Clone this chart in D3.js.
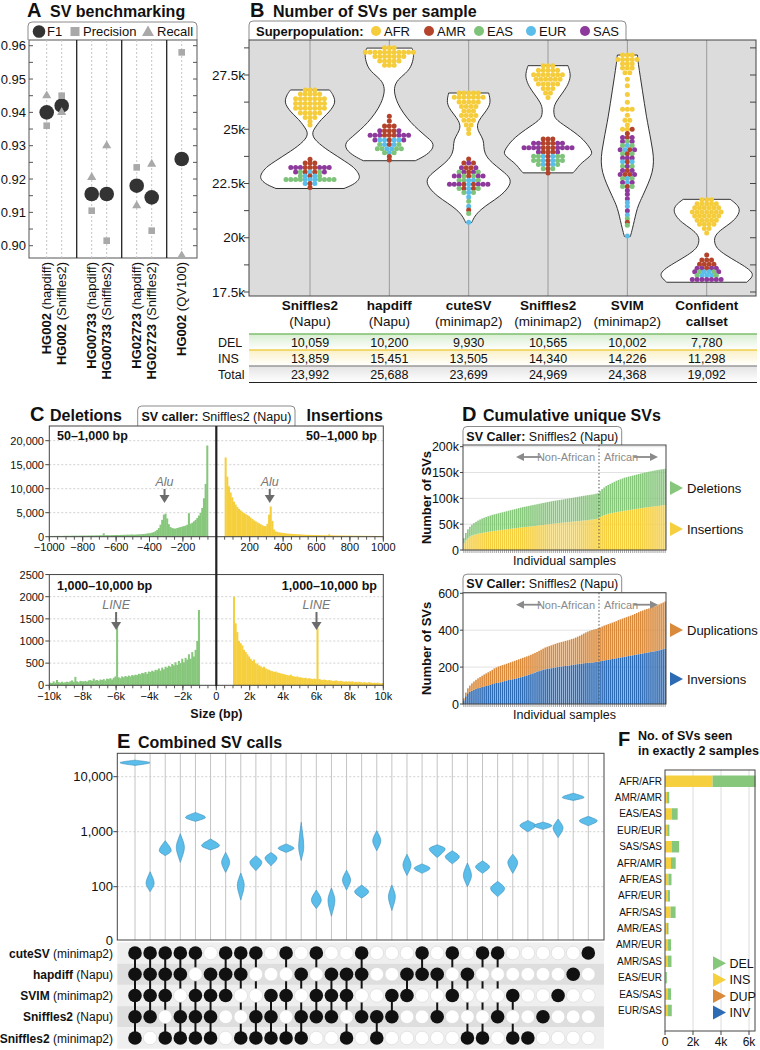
<!DOCTYPE html>
<html><head><meta charset="utf-8">
<script src="https://cdn.jsdelivr.net/npm/d3@7/dist/d3.min.js"></script>
<style>body{margin:0;background:#fff;}</style>
</head><body>
<script>
// ================= DATA =================
// Panel A
const benchSample = ["HG002","HG002","HG00733","HG00733","HG02723","HG02723","HG002"];
const benchMethod = ["(hapdiff)","(Sniffles2)","(hapdiff)","(Sniffles2)","(hapdiff)","(Sniffles2)","(QV100)"];
const benchGroup = [0,0,1,1,2,2,3];
const benchF1 = [0.940,0.942,0.9155,0.9155,0.918,0.9145,0.926];
const benchPrecision = [0.936,0.945,0.9105,0.9015,0.9235,0.9045,0.958];
const benchRecall = [0.945,0.940,0.9205,0.930,0.912,0.9245,0.897];
const benchTicks = [0.90,0.91,0.92,0.93,0.94,0.95,0.96];

// Panel B
const violinCallers = ["Sniffles2","hapdiff","cuteSV","Sniffles2","SVIM","Confident"];
const violinSubs = ["(Napu)","(Napu)","(minimap2)","(minimap2)","(minimap2)","callset"];
const popNames = ["AFR","AMR","EAS","EUR","SAS"];
const popCodes = ["F","R","G","B","P"];
const svTicksK = [17.5,20,22.5,25,27.5];
// violin density profiles: [thousand SVs, relative density]
const violinDensity = [
 [[22.27,0.68],[22.45,0.87],[22.65,0.97],[22.82,1.0],[23.05,0.95],[23.3,0.85],[23.55,0.68],[23.75,0.55],[24.0,0.38],[24.21,0.25],[24.45,0.13],[24.65,0.06],[24.85,0.05],[25.0,0.08],[25.2,0.14],[25.44,0.22],[25.7,0.34],[25.9,0.42],[26.15,0.49],[26.35,0.5],[26.6,0.46],[26.81,0.39]],
 [[23.55,0.52],[23.75,0.7],[24.06,0.87],[24.38,0.89],[24.67,0.73],[24.98,0.58],[25.28,0.44],[25.74,0.28],[26.2,0.16],[26.66,0.1],[26.96,0.1],[27.27,0.16],[27.58,0.33],[27.88,0.44],[28.34,0.49],[28.6,0.48],[28.74,0.45]],
 [[20.7,0.06],[21.0,0.12],[21.3,0.24],[21.6,0.42],[21.9,0.62],[22.3,0.8],[22.68,0.86],[23.0,0.72],[23.3,0.55],[23.6,0.4],[23.9,0.32],[24.2,0.3],[24.5,0.3],[24.8,0.22],[25.1,0.16],[25.4,0.2],[25.7,0.3],[26.0,0.4],[26.3,0.44],[26.67,0.4]],
 [[22.99,0.5],[23.14,0.56],[23.45,0.66],[23.83,0.9],[24.06,0.86],[24.52,0.72],[24.98,0.46],[25.44,0.15],[25.67,0.12],[25.9,0.11],[26.2,0.14],[26.58,0.26],[26.96,0.38],[27.36,0.45],[27.65,0.44],[27.93,0.4]],
 [[20.06,0.06],[20.4,0.1],[20.8,0.14],[21.2,0.18],[21.5,0.22],[21.9,0.3],[22.5,0.42],[23.0,0.5],[23.5,0.53],[24.0,0.51],[24.5,0.47],[25.0,0.43],[25.6,0.38],[26.2,0.34],[26.8,0.3],[27.4,0.26],[28.0,0.22],[28.42,0.2]],
 [[17.95,0.8],[18.15,0.9],[18.35,0.93],[18.6,0.82],[18.9,0.6],[19.2,0.38],[19.5,0.2],[19.8,0.15],[20.1,0.16],[20.4,0.3],[20.7,0.5],[21.0,0.62],[21.3,0.67],[21.55,0.6],[21.77,0.47]]
];
// beeswarm rows: [thousand SVs, superpopulation codes of samples in the row]
const swarmRows = [
 [[26.81,"FFF"],[26.62,"FFFFF"],[26.41,"FFFFFFF"],[26.19,"FFFFFFF"],[25.97,"FFFFFFF"],[25.75,"FFFFF"],[25.54,"FFF"],[25.36,"F"],[25.2,"F"],
  [23.62,"R"],[23.44,"RRR"],[23.24,"PPPRRRPPP"],[23.03,"PGRBRGP"],[22.84,"GBRBG"],[22.68,"GGGGBBBGGGG"],[22.5,"BRB"],[22.32,"R"]],
 [[28.76,"FFF"],[28.55,"FFFFFFFFFFF"],[28.35,"FFFFFFF"],[28.15,"FFFFF"],[27.95,"FFF"],
  [25.6,"R"],[25.38,"R"],[25.15,"RRR"],[24.93,"PRRRP"],[24.72,"PPPRRRPPP"],[24.5,"PBBRBBP"],[24.3,"GBRBG"],[24.1,"GGBBGG"],[23.92,"GBG"],[23.75,"R"],[23.58,"R"]],
 [[26.67,"FFFFF"],[26.47,"FFFFFFF"],[26.26,"FFFFF"],[26.05,"FFFF"],[25.84,"FFF"],[25.63,"FFFF"],[25.42,"FFF"],[25.2,"FF"],[25.0,"F"],[24.8,"F"],
  [23.63,"R"],[23.44,"RPR"],[23.23,"PRRP"],[23.03,"GPRPG"],[22.84,"PPGRGPP"],[22.65,"GGBBG"],[22.46,"PPPRBRPPP"],[22.27,"GRBRG"],[22.08,"GBG"],[21.88,"B"],[21.68,"G"],[21.45,"B"],[21.28,"R"],[21.12,"G"],[20.72,"B"]],
 [[27.93,"FFF"],[27.72,"FFFFF"],[27.51,"FFFFFFF"],[27.3,"FFFFFF"],[27.09,"FFFFF"],[26.88,"FFF"],[26.67,"FF"],[26.46,"F"],
  [24.55,"RRR"],[24.35,"PPRRRPP"],[24.15,"PPPPRRRPPPP"],[23.95,"PRRRP"],[23.76,"GGBRBGG"],[23.56,"GGBRBGG"],[23.37,"GBRBG"],[23.18,"GRG"],[22.98,"R"]],
 [[28.42,"FFF"],[28.22,"FFFFF"],[28.02,"FFF"],[27.82,"FFF"],[27.6,"FF"],[27.3,"F"],[27.0,"F"],[26.6,"F"],[26.25,"F"],[25.92,"FFF"],[25.65,"F"],[25.42,"FF"],[25.2,"F"],[25.0,"FFR"],
  [24.8,"R"],[24.62,"PRP"],[24.44,"PGP"],[24.25,"GBG"],[24.06,"PBRP"],[23.87,"GRG"],[23.68,"PPP"],[23.5,"BRB"],[23.3,"GPG"],[23.1,"PRP"],[22.92,"PRRP"],[22.73,"GBG"],[22.55,"PBP"],[22.36,"GRG"],[22.18,"P"],[22.0,"P"],[21.8,"P"],[21.62,"B"],[21.45,"B"],[21.25,"P"],[21.05,"B"],[20.88,"G"],[20.72,"R"],[20.58,"G"],[20.08,"B"]],
 [[21.75,"FFF"],[21.57,"FFFFF"],[21.38,"FFFFFF"],[21.19,"FFFFFFF"],[21.0,"FFFFFF"],[20.81,"FFFFF"],[20.62,"FFFF"],[20.43,"FF"],[20.22,"F"],
  [19.2,"R"],[18.98,"RRR"],[18.78,"RRRR"],[18.6,"PPRPP"],[18.43,"PGBBGP"],[18.26,"GBBBG"],[18.08,"PPPPPPP"]]
];
const tableRows = ["DEL","INS","Total"];
const tableDEL = [10059,10200,9930,10565,10002,7780];
const tableINS = [13859,15451,13505,14340,14226,11298];
const tableTotal = [23992,25688,23699,24969,24368,19092];

// Panel C (bin starts in bp, counts)
const delSmallStart = -1000, smallBin = 10;
const delSmall = [150,160,150,170,160,180,170,160,180,190, 190,200,180,210,200,220,200,210,230,220,
 230,240,220,250,240,260,250,270,260,280, 300,280,700,300,310,320,300,330,340,350,
 360,350,380,370,400,390,420,410,440,450, 420,440,460,480,500,520,560,600,650,700,
 750,850,950,1150,1400,1800,2500,3500,4600,4800, 3800,2600,2000,1800,1700,1700,1800,1900,2000,2100,
 2200,2300,2500,4900,2700,2900,3200,3500,3900,4400, 5000,6000,8000,11000,19000];
const insSmallStart = 50;
const insSmall = [16500,12500,10500,9200,8200,7300,6700,6200,5800,5500, 5200,4900,4700,4500,4300,4000,3700,3400,3200,3000,
 2800,2600,2400,2200,2200,2700,4600,6300,3300,1500, 1100,1000,900,850,800,
 750,700,650,620,600,560,540,520,500,480, 460,440,420,400,390,380,370,360,350,340,
 330,320,310,300,300,290,280,500,280,270, 260,250,250,240,240,230,230,220,220,210,
 210,200,200,200,190,190,180,180,180,170, 170,170,160,160,160,150,150,150,150,140];
const delLargeStart = -10000, largeBin = 100;
const delLarge = [60,50,90,60,120,70,60,80,60,70, 80,70,90,110,80,190,90,70,100,90,
 90,100,80,110,120,100,150,110,120,100, 130,120,140,110,150,140,160,130,170,200,
 1320,180,160,200,180,210,190,220,200,230, 220,240,230,260,250,280,270,300,260,310,
 300,330,310,350,340,380,330,400,360,420, 400,440,420,480,450,520,460,550,500,600,
 520,620,580,700,600,750,650,800,1000,1700];
const insLargeStart = 1000;
const insLarge = [2000,1400,1200,1000,950,900,800,750,700,650, 600,550,580,500,480,450,430,400,420,380,
 360,350,330,320,300,310,290,280,270,260, 250,240,230,220,240,210,200,190,200,180,
 180,170,160,170,150,160,150,140,150,140, 1300,140,130,120,130,120,110,120,110,100,
 100,110,100,90,100,90,80,90,80,90, 80,90,70,80,70,80,70,60,70,60,
 60,70,60,50,60,50,60,50,40,50];

// Panel D (cumulative, thousands for DEL/INS; counts for DUP/INV); 67 non-African then African
const nonAfricanCount = 67;
const cumINS = [13,19,23,26,28,29.5,30.5,31.5,32.3,33, 33.8,34.5,35.1,35.8,36.5,37,37.5,38,38.5,39,
 39.5,40,40.5,41,41.5,42,42.5,43,43.5,44, 44.4,44.8,45.2,45.6,46,46.5,47,47.5,48,48.5,
 49,49.5,50,50.5,51,51.4,51.8,52.2,52.6,53, 53.4,53.8,54.2,54.6,55,55.4,55.8,56.2,56.6,57,
 57.5,58,58.5,59,59.5,60.2,61, 64,66,67.5,68.8,70,71,71.8,72.5,73.2,73.9,
 74.6,75.3,76,76.6,77.2,77.8,78.4,79,79.6,80.2, 80.8,81.4,82,82.5,83,83.5,84,84.5,85,85.5,86,86.5,87];
const cumDEL = [10,14,17,19,21,22.5,24,25.5,26.7,28, 28.7,29.5,30.2,30.8,31.5,32,32.5,33,33.5,34,
 34.5,35,35.5,36,36.5,37,37.5,38,38.5,39, 39.4,39.8,40.2,40.6,41,41.3,41.6,41.9,42.2,42.5,
 42.8,43.1,43.4,43.7,44,44.2,44.4,44.6,44.8,45, 45.3,45.6,45.9,46.2,46.5,46.8,47.1,47.4,47.7,48,
 48.1,48.2,48.3,48.4,48.5,48.8,49, 50,52,53.5,55.2,56,57,58.2,59.5,60.8,61.6,
 62.4,63.2,64,64.4,64.8,65.2,65.6,66,66.4,66.8, 67.2,67.6,68,68.3,68.6,68.9,69.2,69.5,69.7,69.9,70,70.1,70.2];
const cumINV = [20,42,58,66,72,77,82,86,89,92, 95,98,101,104,108,112,114,116,118,121,
 124,127,130,132,134,136,139,142,145,148, 151,155,158,162,166,170,174,178,182,185,
 188,190,192,194,196,198,200,202,203,205, 206,208,209,211,213,215,216,218,219,221,
 222,223,224,225,226,228,229, 232,234,236,238,240,242,244,246,248,250,
 252,254,256,258,260,262,264,266,268,270, 272,274,276,278,280,282,284,286,288,291,294,297,300];
const cumDUP = [11,20,27,34,40,45,49,53,57,61, 65,68,71,74,77,81,84,87,89,90,
 90,91,92,94,96,98,99,100,101,102, 103,103,104,105,106,107,108,110,112,115,
 118,120,122,124,126,128,130,131,133,134, 136,137,139,141,142,145,149,152,157,161,
 166,170,173,176,178,179,181, 183,186,189,191,193,195,197,199,201,205,
 207,209,211,213,215,217,219,222,225,228, 231,233,235,237,238,240,242,244,247,249,251,253,255];

// Panel E
const upsetCallers = ["cuteSV","hapdiff","SVIM","Sniffles2","Sniffles2"];
const upsetAligners = ["(minimap2)","(Napu)","(minimap2)","(Napu)","(minimap2)"];
const upsetSets = ["11111","11110","11101","11011","10111","01111","11100","11001","10011","00111","10101","01011","10110","01110","01101","11010","00011","00110","01100","11000","01010","10100","01001","10001","10010","00101","00001","00010","00100","01000","10000"];
const upsetMid  = [18000,115,450,520,1820,556,277,107,277,333,500,520,57,57,132,81,686,66,248,216,490,351,160,230,93,277,1300,1285,1170,4200,1580];
const upsetLow  = [16000,81,366,277,1540,465,182,57,195,240,420,300,40,29,87,62,450,37,160,175,340,260,100,175,66,175,1000,1100,780,3700,1280];
const upsetHigh = [20000,187,686,920,2240,736,420,178,366,420,600,1480,87,95,200,107,1040,107,390,260,580,450,270,295,125,390,1600,1500,1700,5000,1900];
const upsetSpread = [1.0,0.27,0.4,0.27,0.67,0.6,0.27,0.23,0.4,0.4,0.53,0.17,0.33,0.23,0.27,0.47,0.27,0.23,0.27,0.53,0.53,0.47,0.27,0.47,0.47,0.33,0.53,0.6,0.33,0.73,0.6];
const upsetTicks = [100,1000,10000];

// Panel F
const pairLabels = ["AFR/AFR","AMR/AMR","EAS/EAS","EUR/EUR","SAS/SAS","AFR/AMR","AFR/EAS","AFR/EUR","AFR/SAS","AMR/EAS","AMR/EUR","AMR/SAS","EAS/EUR","EAS/SAS","EUR/SAS"];
const pairINS = [3400,150,480,160,500,430,240,190,400,140,210,210,70,180,180];
const pairDEL = [3030,150,420,150,500,330,220,160,350,110,220,250,60,250,300];
const pairDUP = [20,2,3,2,4,3,2,2,3,1,2,2,1,2,2];
const pairINV = [10,1,2,1,2,2,1,1,2,1,1,1,0,1,1];
const pairTicks = [0,2000,4000,6000];

// ================= STYLE =================
const C = {F:"#F5CC3C",R:"#B4432B",G:"#7DC37A",B:"#5BBDEA",P:"#8D3A9C"};
const GREEN="#86C77B", YELLOW="#F6CF3E", ORANGE="#DA8A3B", BLUE="#2E6BB5", DARK="#333";

const svg = d3.select("body").append("svg").attr("width",760).attr("height",1050)
  .style("font-family","'Liberation Sans', Arial, Helvetica, sans-serif").style("display","block");
const defs = svg.append("defs");

function tab(g,x0,x1,y0,y1,r=4){
  return g.append("path").attr("d",`M${x0},${y1}V${y0+r}Q${x0},${y0} ${x0+r},${y0}H${x1-r}Q${x1},${y0} ${x1},${y0+r}V${y1}`)
   .attr("fill","#fff").attr("stroke","#8a8a8a").attr("stroke-width",1);
}
function txt(g,x,y,s,size,opt={}){
  const t=g.append("text").attr("x",x).attr("y",y).attr("font-size",size).attr("fill",opt.fill||"#111")
    .attr("text-anchor",opt.anchor||"start").attr("font-weight",opt.bold?"bold":"normal");
  if(opt.italic) t.attr("font-style","italic");
  t.text(s); return t;
}
function mix(g,x,y,parts,size,anchor){
  const t=g.append("text").attr("x",x).attr("y",y).attr("font-size",size).attr("fill","#111").attr("text-anchor",anchor||"start");
  parts.forEach(p=>t.append("tspan").attr("font-weight",p[1]?"bold":"normal").text(p[0]));
  return t;
}
function title(g,x,y,letter,label,lx){
  txt(g,x,y,letter,20,{bold:true}); txt(g,lx,y,label,16,{bold:true});
}
function arrowDown(g,x,y0,y1){
  g.append("line").attr("x1",x).attr("x2",x).attr("y1",y0).attr("y2",y1-6).attr("stroke","#6b6b6b").attr("stroke-width",2);
  g.append("path").attr("d",`M${x-5},${y1-8}L${x+5},${y1-8}L${x},${y1}Z`).attr("fill","#6b6b6b");
}
function triRight(g,x,y,col){
  g.append("path").attr("d",`M${x},${y-7}L${x+13},${y}L${x},${y+7}Z`).attr("fill",col);
}

// ================= PANEL A =================
{
const g=svg.append("g");
const L=29,R=197,T=40,Bt=258;
const x=d3.scaleLinear().domain([0,11]).range([31.7,196.7]);
const y=d3.scaleLinear().domain([0.90,0.96]).range([245.7,45.7]);
const slot=i=>i+benchGroup[i]+1;
title(g,27,17,"A","SV benchmarking",50);
tab(g,L-1,R,22,T);
g.append("circle").attr("cx",39).attr("cy",31.5).attr("r",6.3).attr("fill",DARK);
txt(g,47,36,"F1",13);
g.append("rect").attr("x",70.5).attr("y",27).attr("width",9).attr("height",9).attr("fill","#a9a9a9");
txt(g,83,36,"Precision",13);
g.append("path").attr("transform","translate(148,32.5)").attr("d",d3.symbol(d3.symbolTriangle,62)()).attr("fill","#a9a9a9");
txt(g,157,36,"Recall",13);
g.append("rect").attr("x",L).attr("y",T).attr("width",R-L).attr("height",Bt-T).attr("fill","#fff").attr("stroke","#555");
benchF1.forEach((d,i)=>g.append("line").attr("x1",x(slot(i))).attr("x2",x(slot(i))).attr("y1",T).attr("y2",Bt)
  .attr("stroke","#c4c4c4").attr("stroke-dasharray","2,2"));
[3,6,9].forEach(s=>g.append("line").attr("x1",x(s)).attr("x2",x(s)).attr("y1",T).attr("y2",Bt).attr("stroke","#222").attr("stroke-width",1.3));
d3.range(0.900,0.9601,0.005).forEach(v=>{
  g.append("line").attr("x1",L).attr("x2",L+4).attr("y1",y(v)).attr("y2",y(v)).attr("stroke","#555");
  g.append("line").attr("x1",R-4).attr("x2",R).attr("y1",y(v)).attr("y2",y(v)).attr("stroke","#555");
});
benchTicks.forEach(v=>txt(g,26,y(v)+4.5,d3.format(".2f")(v),13,{anchor:"end"}));
benchF1.forEach((v,i)=>g.append("circle").attr("cx",x(slot(i))).attr("cy",y(v)).attr("r",7.3).attr("fill",DARK));
benchPrecision.forEach((v,i)=>g.append("rect").attr("x",x(slot(i))-3.3).attr("y",y(v)-3.3).attr("width",6.6).attr("height",6.6).attr("fill","#a9a9a9"));
benchRecall.forEach((v,i)=>g.append("path").attr("transform",`translate(${x(slot(i))},${y(v)})`).attr("d",d3.symbol(d3.symbolTriangle,36)()).attr("fill","#a9a9a9"));
benchSample.forEach((s,i)=>{
  const t=g.append("text").attr("transform",`translate(${x(slot(i))+4.6},${Bt+4}) rotate(-90)`).attr("text-anchor","end").attr("font-size",13).attr("fill","#111");
  t.append("tspan").attr("font-weight","bold").text(s);
  t.append("tspan").text(" "+benchMethod[i]);
});
}

// ================= PANEL B =================
{
const g=svg.append("g");
const L=249,R=756,T=40,Bt=296;
const x=d3.scalePoint().domain(d3.range(6)).range([310,706.7]);
const y=d3.scaleLinear().domain([17.5,27.5]).range([292,75]);
const w=d3.scaleLinear().domain([0,1]).range([0,50]);
title(g,250,17,"B","Number of SVs per sample",273);
tab(g,L,626,21,T);
txt(g,256,36,"Superpopulation:",13,{bold:true});
const lx=[376,429,479,531,585];
popNames.forEach((p,i)=>{
  g.append("circle").attr("cx",lx[i]).attr("cy",31).attr("r",5).attr("fill",C[popCodes[i]]);
  txt(g,lx[i]+8,36,p,13);
});
g.append("rect").attr("x",L).attr("y",T).attr("width",R-L).attr("height",Bt-T).attr("fill","#dcdcdc");
violinCallers.forEach((c,i)=>g.append("line").attr("x1",x(i)).attr("x2",x(i)).attr("y1",T).attr("y2",Bt).attr("stroke","#9a9a9a"));
violinDensity.forEach((prof,i)=>{
  const area=d3.area().y(d=>y(d[0])).x0(d=>x(i)-w(d[1])).x1(d=>x(i)+w(d[1])).curve(d3.curveBasis);
  g.append("path").attr("d",area(prof)).attr("fill","#fff").attr("stroke","#333").attr("stroke-width",1);
});
swarmRows.forEach((rows,ci)=>{
  rows.forEach(([v,codes])=>{
    const n=codes.length;
    codes.split("").forEach((c,k)=>g.append("circle").attr("cx",x(ci)+(k-(n-1)/2)*4.8).attr("cy",y(v)).attr("r",2.5).attr("fill",C[c]));
  });
});
g.append("rect").attr("x",L).attr("y",T).attr("width",R-L).attr("height",Bt-T).attr("fill","none").attr("stroke","#444");
d3.range(17.5,28.76,1.25).forEach(v=>{
  g.append("line").attr("x1",L-5).attr("x2",L).attr("y1",y(v)).attr("y2",y(v)).attr("stroke","#444");
  g.append("line").attr("x1",R-6).attr("x2",R).attr("y1",y(v)).attr("y2",y(v)).attr("stroke","#444");
});
svTicksK.forEach(v=>txt(g,245,y(v)+4.5,v+"k",13.5,{anchor:"end"}));
violinCallers.forEach((c,i)=>{
  txt(g,x(i),310,c,13.5,{bold:true,anchor:"middle"});
  txt(g,x(i),326,violinSubs[i],13.5,{bold:i===5,anchor:"middle"});
});
const rowsVals=[tableDEL,tableINS,tableTotal];
const rowCol=[["#7cbf6c","#d9eed2"],["#efcf4a","#fbf1c7"],["#9a9a9a","#e3e3e3"]];
const rowTop=[334,350,366];
rowsVals.forEach((vals,r)=>{
  const gid="tg"+r;
  const lg=defs.append("linearGradient").attr("id",gid).attr("x1",0).attr("x2",0).attr("y1",0).attr("y2",1);
  lg.append("stop").attr("offset","0%").attr("stop-color",rowCol[r][1]);
  lg.append("stop").attr("offset","100%").attr("stop-color","#ffffff");
  g.append("rect").attr("x",L).attr("y",rowTop[r]).attr("width",757-L).attr("height",16).attr("fill",`url(#${gid})`);
  g.append("line").attr("x1",L).attr("x2",757).attr("y1",rowTop[r]).attr("y2",rowTop[r]).attr("stroke",rowCol[r][0]).attr("stroke-width",1.3);
  txt(g,218,rowTop[r]+12.5,tableRows[r],12.5);
  vals.forEach((v,i)=>txt(g,x(i),rowTop[r]+12.5,d3.format(",")(v),12.5,{anchor:"middle"}));
});
g.append("line").attr("x1",L).attr("x2",757).attr("y1",382.5).attr("y2",382.5).attr("stroke","#222").attr("stroke-width",1.2);
}

// ================= PANEL C =================
{
const g=svg.append("g");
const L=49.3,R=383.3;
const x1=d3.scaleLinear().domain([-1000,1000]).range([L,R]);
const y1=d3.scaleLinear().domain([0,20000]).range([536.7,440.7]);
const x2=d3.scaleLinear().domain([-10000,10000]).range([L,R]);
const y2=d3.scaleLinear().domain([0,2000]).range([685.3,596.7]);
txt(g,30,421,"C",20,{bold:true}); txt(g,50,421,"Deletions",16,{bold:true}); txt(g,383,421,"Insertions",16,{bold:true,anchor:"end"});
tab(g,137.7,295,406,426);
mix(g,216.4,421,[["SV caller: ",true],["Sniffles2 (Napu)",false]],12.5,"middle");
function panel(T,Bt,x,y,ticks,tfmt,xt,xfmt,minor,data){
  g.append("rect").attr("x",L).attr("y",T).attr("width",R-L).attr("height",Bt-T).attr("fill","#fff");
  ticks.forEach(v=>{ if(v>0) g.append("line").attr("x1",L).attr("x2",R).attr("y1",y(v)).attr("y2",y(v)).attr("stroke","#d0d0d0").attr("stroke-dasharray","2,2");
    g.append("line").attr("x1",L-4).attr("x2",L).attr("y1",y(v)).attr("y2",y(v)).attr("stroke","#444");
    txt(g,44,y(v)+4,tfmt(v),11,{anchor:"end"}); });
  data.forEach(([start,bin,vals,col])=>vals.forEach((v,i)=>{
    const a=x(start+i*bin), b=x(start+(i+1)*bin);
    g.append("rect").attr("x",a).attr("width",b-a+0.35).attr("y",y(v)).attr("height",Bt-y(v)).attr("fill",col);
  }));
  minor.forEach(v=>g.append("line").attr("x1",x(v)).attr("x2",x(v)).attr("y1",Bt).attr("y2",Bt+3).attr("stroke","#555"));
  xt.forEach(v=>{ g.append("line").attr("x1",x(v)).attr("x2",x(v)).attr("y1",Bt).attr("y2",Bt+5).attr("stroke","#444");
    txt(g,x(v),Bt+14.5,xfmt(v),11,{anchor:"middle"}); });
  g.append("rect").attr("x",L).attr("y",T).attr("width",R-L).attr("height",Bt-T).attr("fill","none").attr("stroke","#444");
}
panel(426,536.7,x1,y1,[0,5000,10000,15000,20000],d3.format(","),
  [-1000,-800,-600,-400,-200,200,400,600,800,1000],v=>(v<0?"\u2212":"")+Math.abs(v),
  d3.range(-1000,1001,50),[[delSmallStart,smallBin,delSmall,GREEN],[insSmallStart,smallBin,insSmall,YELLOW]]);
panel(y2(2500),685.3,x2,y2,[0,500,1000,1500,2000,2500],d3.format("d"),
  d3.range(-10000,10001,2000),v=>v===0?"0":(v<0?"\u2212":"")+Math.abs(v/1000)+"k",
  d3.range(-10000,10001,500),[[delLargeStart,largeBin,delLarge,GREEN],[insLargeStart,largeBin,insLarge,YELLOW]]);
txt(g,57,439.5,"50\u20131,000 bp",12.5,{bold:true}); txt(g,377,439.5,"50\u20131,000 bp",12.5,{bold:true,anchor:"end"});
txt(g,57,589.5,"1,000\u201310,000 bp",12.5,{bold:true}); txt(g,377,589.5,"1,000\u201310,000 bp",12.5,{bold:true,anchor:"end"});
g.append("line").attr("x1",x1(0)).attr("x2",x1(0)).attr("y1",426).attr("y2",686).attr("stroke","#222").attr("stroke-width",2.2);
txt(g,x1(-310),486,"Alu",12.5,{italic:true,fill:"#777",anchor:"middle"}); arrowDown(g,x1(-310),489,503);
txt(g,x1(320),486,"Alu",12.5,{italic:true,fill:"#777",anchor:"middle"}); arrowDown(g,x1(320),489,503);
txt(g,x2(-6000),609,"LINE",12.5,{italic:true,fill:"#777",anchor:"middle"}); arrowDown(g,x2(-6000),612,630);
txt(g,x2(6000),609,"LINE",12.5,{italic:true,fill:"#777",anchor:"middle"}); arrowDown(g,x2(6000),612,630);
txt(g,216.4,717.5,"Size (bp)",12.5,{bold:true,anchor:"middle"});
}

// ================= PANEL D =================
{
const g=svg.append("g");
const L=463,R=666;
const x=d3.scaleBand().domain(d3.range(cumINS.length)).range([L,R]).paddingInner(0.22);
const split=L+(R-L)*nonAfricanCount/cumINS.length;
txt(g,462,421,"D",20,{bold:true}); txt(g,483,421,"Cumulative unique SVs",16,{bold:true});
function plot(T,Bt,y,ticks,fmt,a,b,colA,colB,labA,labB,legY){
  tab(g,L,621.7,T-18.5,T);
  mix(g,542.3,T-4.5,[["SV Caller: ",true],["Sniffles2 (Napu)",false]],12.5,"middle");
  g.append("rect").attr("x",L).attr("y",T).attr("width",R-L).attr("height",Bt-T).attr("fill","#fff");
  ticks.forEach(v=>{ if(v>0) g.append("line").attr("x1",L).attr("x2",R).attr("y1",y(v)).attr("y2",y(v)).attr("stroke","#e2e2e2");
    g.append("line").attr("x1",L-3).attr("x2",L).attr("y1",y(v)).attr("y2",y(v)).attr("stroke","#444");
    txt(g,459,y(v)+4.5,fmt(v),12.5,{anchor:"end"}); });
  const st=d3.stack().keys([0,1]).value((d,k)=>k===0?a[d]:b[d])(d3.range(a.length));
  st.forEach((layer,k)=>layer.forEach((d,i)=>g.append("rect").attr("x",x(i)).attr("width",x.bandwidth())
    .attr("y",y(d[1])).attr("height",y(d[0])-y(d[1])).attr("fill",k===0?colA:colB)));
  a.forEach((d,i)=>g.append("line").attr("x1",x(i)+x.bandwidth()/2).attr("x2",x(i)+x.bandwidth()/2).attr("y1",Bt).attr("y2",Bt+3).attr("stroke","#666").attr("stroke-width",0.6));
  g.append("line").attr("x1",split).attr("x2",split).attr("y1",T).attr("y2",Bt).attr("stroke","#555").attr("stroke-dasharray","1.5,2");
  const ay=T+12;
  txt(g,split-4,ay+4,"Non-African",11,{fill:"#8a8a8a",anchor:"end"});
  txt(g,split+5,ay+4,"African",11,{fill:"#8a8a8a"});
  g.append("line").attr("x1",541).attr("x2",522).attr("y1",ay).attr("y2",ay).attr("stroke","#8a8a8a").attr("stroke-width",1.8);
  g.append("path").attr("d",`M${516},${ay}L${524},${ay-4}L${524},${ay+4}Z`).attr("fill","#8a8a8a");
  g.append("line").attr("x1",634).attr("x2",652).attr("y1",ay).attr("y2",ay).attr("stroke","#8a8a8a").attr("stroke-width",1.8);
  g.append("path").attr("d",`M${658},${ay}L${650},${ay-4}L${650},${ay+4}Z`).attr("fill","#8a8a8a");
  g.append("rect").attr("x",L).attr("y",T).attr("width",R-L).attr("height",Bt-T).attr("fill","none").attr("stroke","#444");
  g.append("text").attr("transform",`translate(431,${(T+Bt)/2}) rotate(-90)`).attr("text-anchor","middle").attr("font-size",13).attr("font-weight","bold").attr("fill","#111").text("Number of SVs");
  txt(g,(L+R)/2,Bt+14.5,"Individual samples",12.5,{anchor:"middle"});
  triRight(g,670,legY[0],colB); txt(g,687,legY[0]+4.5,labB,13);
  triRight(g,670,legY[1],colA); txt(g,687,legY[1]+4.5,labA,13);
}
plot(445,550,d3.scaleLinear().domain([0,200]).range([550,446.7]),[0,50,100,150,200],v=>v===0?"0":v+"k",cumINS,cumDEL,YELLOW,GREEN,"Insertions","Deletions",[488,529]);
plot(592.7,704,d3.scaleLinear().domain([0,600]).range([704,593.3]),[0,200,400,600],d3.format("d"),cumINV,cumDUP,BLUE,ORANGE,"Inversions","Duplications",[630,679]);
}

// ================= PANEL E =================
{
const g=svg.append("g");
const L=117.3,R=604,T=753.3,Bt=940;
const x=d3.scalePoint().domain(d3.range(upsetSets.length)).range([135,588.3]);
const y=d3.scaleLog().domain([100,10000]).range([886.7,776.7]);
const ry=d3.scalePoint().domain(d3.range(5)).range([953,1038]);
const ws=d3.scaleLinear().domain([0,1]).range([0,15]);
txt(g,117,747.5,"E",20,{bold:true}); txt(g,138,747.5,"Combined SV calls",16,{bold:true});
d3.range(5).forEach(r=>g.append("rect").attr("x",L).attr("y",ry(r)-10.6).attr("width",R-L).attr("height",21.25).attr("fill",r%2?"#dedede":"#efefef"));
g.append("rect").attr("x",L).attr("y",T).attr("width",R-L).attr("height",Bt-T).attr("fill","#fff");
upsetTicks.forEach(v=>{ g.append("line").attr("x1",L).attr("x2",R).attr("y1",y(v)).attr("y2",y(v)).attr("stroke","#d0d0d0").attr("stroke-dasharray","2,2");
  g.append("line").attr("x1",L-4).attr("x2",L).attr("y1",y(v)).attr("y2",y(v)).attr("stroke","#444");
  txt(g,113,y(v)+4.5,d3.format(",")(v),13,{anchor:"end"}); });
txt(g,113,Bt+4.5,"0",13,{anchor:"end"});
upsetSets.forEach((s,i)=>g.append("line").attr("x1",x(i)).attr("x2",x(i)).attr("y1",T).attr("y2",Bt).attr("stroke","#c4c4c4"));
upsetSets.forEach((s,i)=>{
  const lm=Math.log10(upsetMid[i]), ll=Math.log10(upsetLow[i]), lh=Math.log10(upsetHigh[i]);
  const prof=[[ll,0],[ll+(lm-ll)*0.35,0.45],[ll+(lm-ll)*0.7,0.85],[lm,1],[lm+(lh-lm)*0.3,0.85],[lm+(lh-lm)*0.65,0.45],[lh,0]];
  const area=d3.area().y(d=>y(Math.pow(10,d[0]))).x0(d=>x(i)-ws(d[1]*upsetSpread[i])).x1(d=>x(i)+ws(d[1]*upsetSpread[i])).curve(d3.curveCatmullRom);
  g.append("path").attr("d",area(prof)).attr("fill","#5BBDEA").attr("stroke","#3a8dbb").attr("stroke-width",0.6);
});
g.append("rect").attr("x",L).attr("y",T).attr("width",R-L).attr("height",Bt-T).attr("fill","none").attr("stroke","#444");
upsetSets.forEach((s,i)=>{
  const on=s.split("").map((c,r)=>c==="1"?r:-1).filter(r=>r>=0);
  if(on.length>1) g.append("line").attr("x1",x(i)).attr("x2",x(i)).attr("y1",ry(d3.min(on))).attr("y2",ry(d3.max(on))).attr("stroke","#111").attr("stroke-width",2);
  s.split("").forEach((c,r)=>g.append("circle").attr("cx",x(i)).attr("cy",ry(r)).attr("r",6.8)
    .attr("fill",c==="1"?"#111":"#fff").attr("stroke",c==="1"?"none":"#d6d6d6").attr("stroke-width",0.6));
});
upsetCallers.forEach((c,r)=>mix(g,113,ry(r)+4.5,[[c,true],[" "+upsetAligners[r],false]],12,"end"));
}

// ================= PANEL F =================
{
const g=svg.append("g");
const L=665,R=755,T=770,Bt=1031;
const x=d3.scaleLinear().domain([0,6000]).range([L,749]);
const y=d3.scaleBand().domain(pairLabels).range([770.6,1021.1]).padding(0.3);
txt(g,618,746,"F",20,{bold:true});
txt(g,638,740,"No. of SVs seen",12.5,{bold:true}); txt(g,638,755,"in exactly 2 samples",12.5,{bold:true});
g.append("rect").attr("x",L).attr("y",T).attr("width",R-L).attr("height",Bt-T).attr("fill","#fff");
pairTicks.forEach(v=>{ if(v>0) g.append("line").attr("x1",x(v)).attr("x2",x(v)).attr("y1",T).attr("y2",Bt).attr("stroke","#dcdcdc");
  g.append("line").attr("x1",x(v)).attr("x2",x(v)).attr("y1",Bt).attr("y2",Bt+4).attr("stroke","#444");
  txt(g,x(v),Bt+15,v===0?"0":(v/1000)+"k",12,{anchor:"middle"}); });
const st=d3.stack().keys([0,1,2,3]).value((d,k)=>[pairINS,pairDEL,pairDUP,pairINV][k][d])(d3.range(pairLabels.length));
const cols=[YELLOW,GREEN,ORANGE,BLUE];
st.forEach((layer,k)=>layer.forEach((d,i)=>g.append("rect").attr("x",x(d[0])).attr("width",x(d[1])-x(d[0]))
  .attr("y",y(pairLabels[i])).attr("height",y.bandwidth()).attr("fill",cols[k])));
pairLabels.forEach(p=>txt(g,662,y(p)+y.bandwidth()/2+3.5,p,10,{anchor:"end"}));
g.append("rect").attr("x",L).attr("y",T).attr("width",R-L).attr("height",Bt-T).attr("fill","none").attr("stroke","#444");
[["DEL",GREEN],["INS",YELLOW],["DUP",ORANGE],["INV",BLUE]].forEach(([n,c],i)=>{
  const yy=963.3+i*16.4; triRight(g,713,yy,c); txt(g,729.5,yy+4.5,n,12.5);
});
}
</script>
</body></html>
